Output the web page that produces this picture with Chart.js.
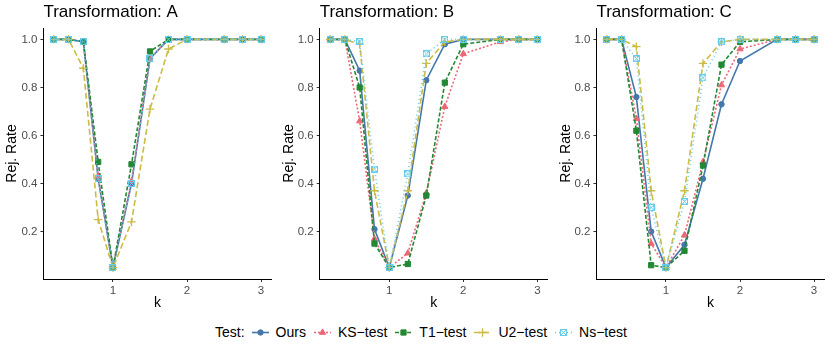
<!DOCTYPE html>
<html>
<head>
<meta charset="utf-8">
<script src="https://cdn.jsdelivr.net/npm/chart.js@4.4.1/dist/chart.umd.min.js"></script>
<style>
  html, body { margin:0; padding:0; background:#fff; }
  #wrap { position:relative; width:830px; height:346px; overflow:hidden; font-family:"Liberation Sans", Arial, sans-serif; }
  canvas.panel { position:absolute; top:0; }
  #legend { position:absolute; left:215px; top:321px; height:22px; display:flex; align-items:center; font-size:14px; color:#000; white-space:nowrap; }
  #legend span.t { display:inline-block; }
  #legend canvas { display:inline-block; }
</style>
</head>
<body>
<div id="wrap">
  <canvas id="cA" class="panel" width="277" height="312" style="left:0px"></canvas>
  <canvas id="cB" class="panel" width="277" height="312" style="left:277px"></canvas>
  <canvas id="cC" class="panel" width="276" height="312" style="left:554px"></canvas>
  <div id="legend"></div>
</div>
<script>
// ---------------- data ----------------
const K = [0.2, 0.4, 0.6, 0.8, 1, 1.25, 1.5, 1.75, 2, 2.5, 2.75, 3];
const Y_TICKS = [0.2, 0.4, 0.6, 0.8, 1.0];
const X_TICKS = [1, 2, 3];
const TESTS = ['Ours', 'KS\u2212test', 'T1\u2212test', 'U2\u2212test', 'Ns\u2212test'];
const PANEL_TITLES = ['Transformation: A', 'Transformation: B', 'Transformation: C'];

// Transformation A
const oursA = [1, 1, 0.99, 0.42, 0.05, 0.40, 0.92, 1, 1, 1, 1, 1];
const ksA   = [1, 1, 0.99, 0.43, 0.05, 0.41, 0.92, 1, 1, 1, 1, 1];
const t1A   = [1, 1, 0.99, 0.49, 0.05, 0.48, 0.95, 1, 1, 1, 1, 1];
const u2A   = [1, 1, 0.88, 0.25, 0.05, 0.24, 0.71, 0.96, 1, 1, 1, 1];
const nsA   = [1, 1, 0.99, 0.42, 0.05, 0.40, 0.92, 1, 1, 1, 1, 1];

// Transformation B
const oursB = [1, 1, 0.87, 0.21, 0.05, 0.35, 0.83, 0.98, 1, 1, 1, 1];
const ksB   = [1, 1, 0.66, 0.17, 0.05, 0.11, 0.36, 0.72, 0.94, 0.99, 1, 1];
const t1B   = [1, 1, 0.80, 0.15, 0.05, 0.065, 0.35, 0.82, 0.98, 1, 1, 1];
const u2B   = [1, 1, 0.98, 0.37, 0.05, 0.37, 0.90, 0.99, 1, 1, 1, 1];
const nsB   = [1, 1, 0.99, 0.46, 0.05, 0.44, 0.94, 1, 1, 1, 1, 1];

// Transformation C
const oursC = [1, 1, 0.76, 0.20, 0.05, 0.145, 0.42, 0.73, 0.91, 1, 1, 1];
const ksC   = [1, 1, 0.67, 0.15, 0.05, 0.185, 0.49, 0.81, 0.96, 1, 1, 1];
const t1C   = [1, 1, 0.62, 0.06, 0.05, 0.12, 0.475, 0.895, 0.99, 1, 1, 1];
const u2C   = [1, 1, 0.97, 0.37, 0.05, 0.37, 0.90, 0.99, 1, 1, 1, 1];
const nsC   = [1, 1, 0.92, 0.30, 0.05, 0.325, 0.84, 0.99, 1, 1, 1, 1];

// ---------------- styles ----------------
function makeNsMarker(color) {
  const c = document.createElement('canvas');
  c.width = 7; c.height = 7;
  const g = c.getContext('2d');
  g.strokeStyle = color; g.lineWidth = 1;
  g.strokeRect(0.5, 0.5, 6, 6);
  g.beginPath();
  g.moveTo(0.5, 0.5); g.lineTo(6.5, 6.5);
  g.moveTo(6.5, 0.5); g.lineTo(0.5, 6.5);
  g.stroke();
  return c;
}
const STYLES = [
  { color: '#4477AA', dash: [],     point: 'circle',   r: 2.7, bw: 1 },
  { color: '#EE6677', dash: [2, 2], point: 'triangle', r: 3.6, bw: 1 },
  { color: '#228833', dash: [4, 2], point: 'rect',     r: 3.7, bw: 1 },
  { color: '#CCBB44', dash: [6, 3], point: 'cross',    r: 4.2, bw: 1.3 },
  { color: '#66CCEE', dash: [1, 3], point: makeNsMarker('#66CCEE'), r: 3.5, bw: 1 }
];

const FONT = '"Liberation Sans", Arial, sans-serif';
Chart.defaults.font.family = FONT;

function buildDatasets(series) {
  return series.map((vals, i) => {
    const s = STYLES[i];
    return {
      label: TESTS[i],
      data: K.map((k, j) => ({ x: k, y: vals[j] })),
      borderColor: s.color,
      backgroundColor: s.color,
      borderWidth: 1.6,
      borderDash: s.dash,
      tension: 0,
      pointStyle: s.point,
      pointRadius: s.r,
      pointBorderWidth: s.bw,
      pointBackgroundColor: s.color,
      pointBorderColor: s.color,
      order: series.length - i,
      clip: false
    };
  });
}

function makeChart(id, title, series, yWidth, rightPad) {
  return new Chart(document.getElementById(id), {
    type: 'line',
    data: { datasets: buildDatasets(series) },
    options: {
      responsive: false,
      animation: false,
      devicePixelRatio: 1,
      layout: { padding: { top: 0, right: rightPad, bottom: 0, left: 0 } },
      plugins: {
        legend: { display: false },
        tooltip: { enabled: false },
        title: {
          display: true, text: title, align: 'start', fullSize: false,
          color: '#000', font: { size: 17, weight: 'normal', family: FONT, lineHeight: 1.2 },
          padding: { top: 2, bottom: 5.6 }
        }
      },
      scales: {
        x: {
          type: 'linear', min: 0.06, max: 3.14,
          afterBuildTicks: s => { s.ticks = X_TICKS.map(v => ({ value: v })); },
          afterFit: s => { s.height = 33; },
          ticks: { color: '#4D4D4D', font: { size: 11.5 }, padding: 2, maxRotation: 0, callback: v => String(v) },
          grid: { display: true, drawOnChartArea: false, drawTicks: true, tickLength: 3, color: '#333333', lineWidth: 1 },
          border: { display: true, color: '#000', width: 1 },
          title: { display: true, text: 'k', color: '#000', font: { size: 14, lineHeight: 1.2 }, padding: { top: 0, bottom: 0.6 } }
        },
        y: {
          type: 'linear', min: 0.0025, max: 1.0475,
          afterBuildTicks: s => { s.ticks = Y_TICKS.map(v => ({ value: v })); },
          afterFit: s => { s.width = yWidth; },
          ticks: { color: '#4D4D4D', font: { size: 11.5 }, padding: 3, callback: v => v.toFixed(1) },
          grid: { display: true, drawOnChartArea: false, drawTicks: true, tickLength: 3, color: '#333333', lineWidth: 1 },
          border: { display: true, color: '#000', width: 1 },
          title: { display: true, text: 'Rej. Rate', color: '#000', font: { size: 14, lineHeight: 1.2 }, padding: { top: 3.6, bottom: 0 } }
        }
      }
    }
  });
}

makeChart('cA', PANEL_TITLES[0], [oursA, ksA, t1A, u2A, nsA], 43.4, 5.6);
makeChart('cB', PANEL_TITLES[1], [oursB, ksB, t1B, u2B, nsB], 42.7, 6.3);
makeChart('cC', PANEL_TITLES[2], [oursC, ksC, t1C, u2C, nsC], 42.4, 5.6);

// ---------------- legend ----------------
(function buildLegend() {
  const lg = document.getElementById('legend');
  const head = document.createElement('span');
  head.className = 't';
  head.textContent = 'Test:';
  head.style.marginRight = '7px';
  lg.appendChild(head);
  TESTS.forEach((name, i) => {
    const s = STYLES[i];
    const c = document.createElement('canvas');
    c.width = 17; c.height = 17;
    c.style.marginRight = '7px';
    const g = c.getContext('2d');
    g.strokeStyle = s.color; g.fillStyle = s.color;
    g.lineWidth = 1.6; g.setLineDash(s.dash);
    g.beginPath(); g.moveTo(0, 8.5); g.lineTo(17, 8.5); g.stroke();
    g.setLineDash([]);
    g.lineWidth = s.bw;
    Chart.helpers.drawPoint(g, { pointStyle: s.point, radius: s.r, borderWidth: s.bw, rotation: 0 }, 8.5, 8.5);
    lg.appendChild(c);
    const t = document.createElement('span');
    t.className = 't';
    t.textContent = name;
    t.style.marginRight = i < TESTS.length - 1 ? '8px' : '0';
    lg.appendChild(t);
  });
})();
</script>
</body>
</html>
